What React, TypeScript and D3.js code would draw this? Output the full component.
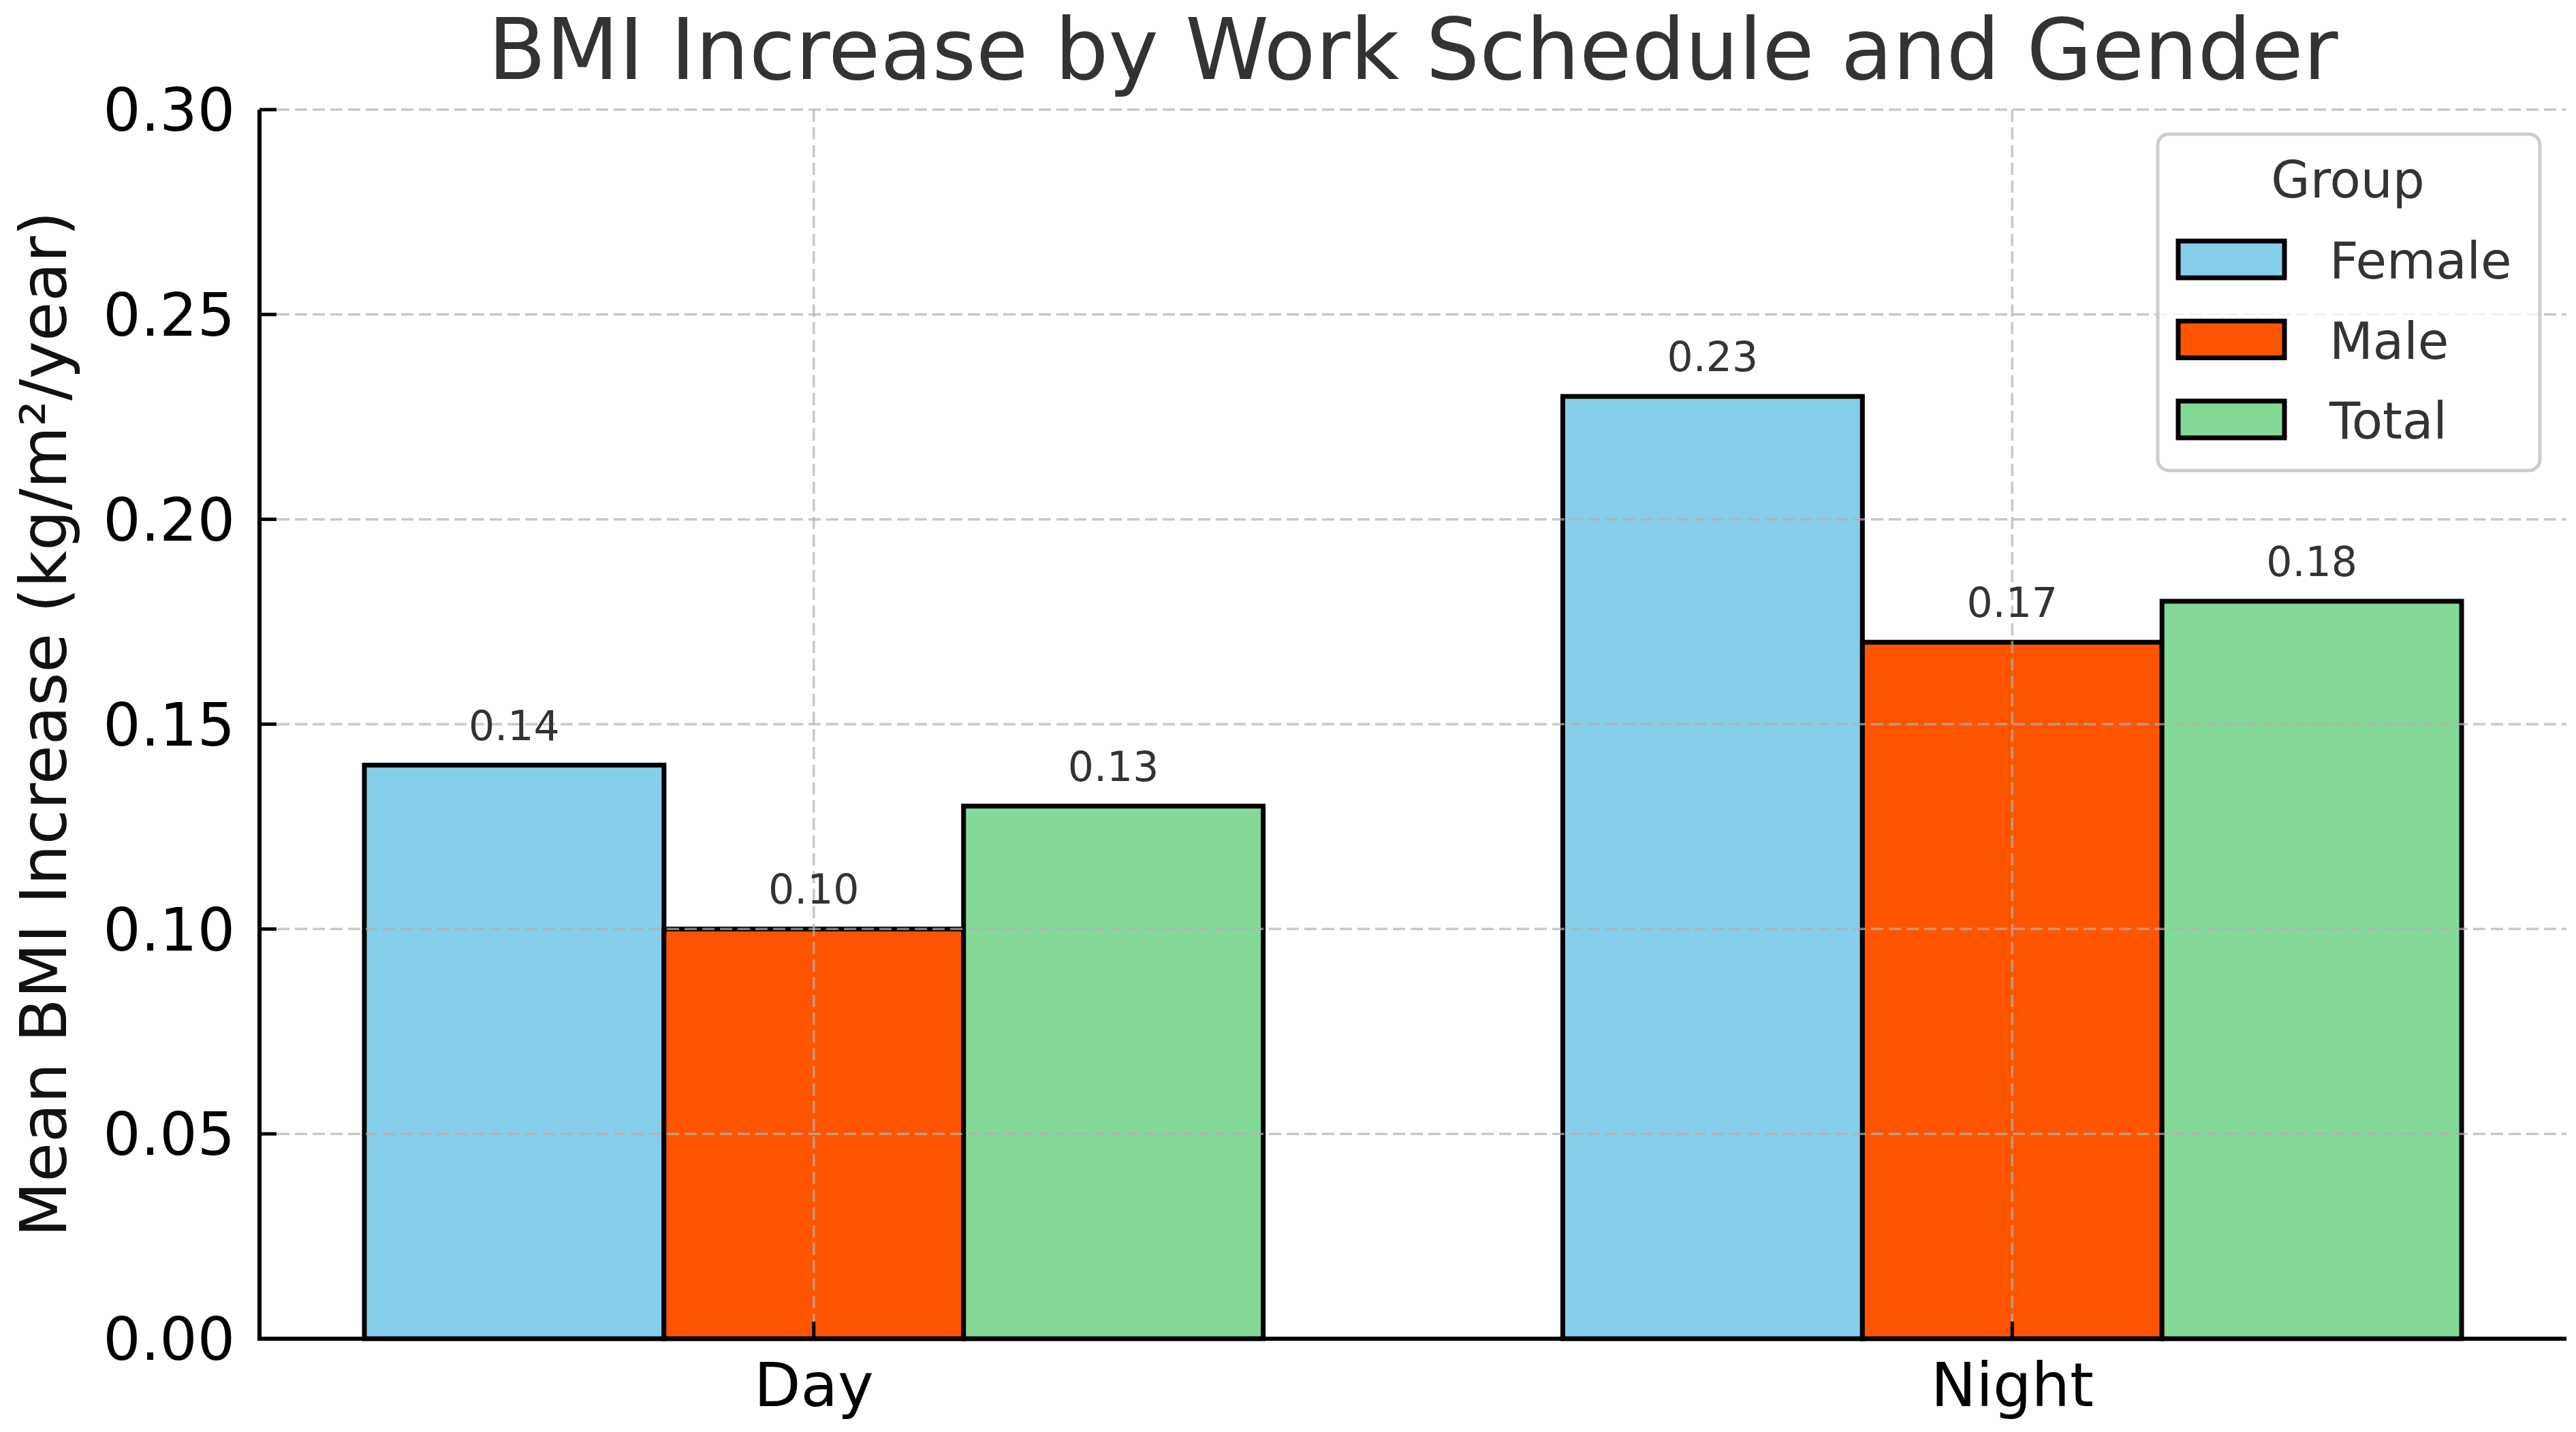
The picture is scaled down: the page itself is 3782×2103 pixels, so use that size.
import React from "react";
import * as d3 from "d3";

const categories = ["Day", "Night"];
const groups = ["Female", "Male", "Total"];
const femaleValues = [0.14, 0.23];
const maleValues = [0.1, 0.17];
const totalValues = [0.13, 0.18];
const groupColors = ["#87CEEB", "#FF5500", "#85D996"];
const yTicks = [0, 0.05, 0.1, 0.15, 0.2, 0.25, 0.3];

const W = 3782;
const H = 2103;
const FONT = "DejaVu Sans, Verdana, sans-serif";

export default function App() {
  const series = [femaleValues, maleValues, totalValues];
  const barW = 0.25;
  const x = d3.scaleLinear().domain([-0.4625, 1.4625]).range([381, 3768]);
  const y = d3.scaleLinear().domain([0, 0.3]).range([1966, 161]);
  const [x0, x1] = x.range();
  const [yb, yt] = y.range();

  const bars: any[] = [];
  const labels: any[] = [];
  categories.forEach((c, i) => {
    series.forEach((vals, j) => {
      const center = i + (j - 1) * barW;
      const left = x(center - barW / 2);
      const right = x(center + barW / 2);
      const top = y(vals[i]);
      bars.push(
        <rect
          key={`b-${c}-${j}`}
          x={left}
          y={top}
          width={right - left}
          height={yb - top}
          fill={groupColors[j]}
          stroke="#000"
          strokeWidth={7}
        />
      );
      labels.push(
        <text
          key={`l-${c}-${j}`}
          x={x(center)}
          y={top - 37}
          textAnchor="middle"
          fontSize={60}
          fill="#333"
          fontFamily={FONT}
        >
          {vals[i].toFixed(2)}
        </text>
      );
    });
  });

  return (
    <svg
      width={W}
      height={H}
      style={{ position: "absolute", left: 0, top: 0, display: "block", background: "#fff" }}
    >
      <rect x={0} y={0} width={W} height={H} fill="#fff" />
      {/* bars */}
      {bars}
      {/* grid */}
      <g stroke="#b0b0b0" strokeOpacity={0.7} strokeWidth={3.5} strokeDasharray="18,8">
        {yTicks.slice(1).map((t) => (
          <line key={`gy-${t}`} x1={x0} x2={x1} y1={y(t)} y2={y(t)} />
        ))}
        {categories.map((c, i) => (
          <line key={`gx-${c}`} x1={x(i)} x2={x(i)} y1={yt} y2={yb} />
        ))}
      </g>
      {/* value labels */}
      {labels}
      {/* spines */}
      <line x1={x0} x2={x0} y1={yt} y2={yb + 3} stroke="#000" strokeWidth={6} />
      <line x1={x0 - 3} x2={x1} y1={yb} y2={yb} stroke="#000" strokeWidth={6} />
      {/* y ticks */}
      {yTicks.map((t) => (
        <g key={`yt-${t}`}>
          <line x1={x0} x2={x0 + 25} y1={y(t)} y2={y(t)} stroke="#000" strokeWidth={5} />
          <text
            x={345}
            y={y(t)}
            dy="0.36em"
            textAnchor="end"
            fontSize={87}
            fill="#000"
            fontFamily={FONT}
          >
            {t.toFixed(2)}
          </text>
        </g>
      ))}
      {/* x ticks */}
      {categories.map((c, i) => (
        <g key={`xt-${c}`}>
          <line x1={x(i)} x2={x(i)} y1={yb} y2={yb - 25} stroke="#000" strokeWidth={5} />
          <text
            x={x(i)}
            y={2065}
            textAnchor="middle"
            fontSize={89}
            fill="#000"
            fontFamily={FONT}
          >
            {c}
          </text>
        </g>
      ))}
      {/* y label */}
      <text
        transform={`translate(${97},${(yt + yb) / 2}) rotate(-90)`}
        textAnchor="middle"
        fontSize={94}
        fill="#111"
        fontFamily={FONT}
      >
        Mean BMI Increase (kg/m²/year)
      </text>
      {/* title */}
      <text
        x={(x0 + x1) / 2}
        y={116}
        textAnchor="middle"
        fontSize={124}
        fill="#333"
        fontFamily={FONT}
      >
        BMI Increase by Work Schedule and Gender
      </text>
      {/* legend */}
      <g>
        <rect
          x={3168}
          y={197}
          width={561}
          height={494}
          rx={16}
          ry={16}
          fill="#fff"
          fillOpacity={0.8}
          stroke="#cccccc"
          strokeWidth={5}
        />
        <text x={3447} y={290} textAnchor="middle" fontSize={74} fill="#333" fontFamily={FONT}>
          Group
        </text>
        {groups.map((g, j) => (
          <g key={`lg-${g}`}>
            <rect
              x={3198}
              y={354 + j * 117.5}
              width={156}
              height={54}
              fill={groupColors[j]}
              stroke="#000"
              strokeWidth={7}
            />
            <text
              x={3420}
              y={409 + j * 117.5}
              fontSize={74}
              fill="#333"
              fontFamily={FONT}
            >
              {g}
            </text>
          </g>
        ))}
      </g>
    </svg>
  );
}
